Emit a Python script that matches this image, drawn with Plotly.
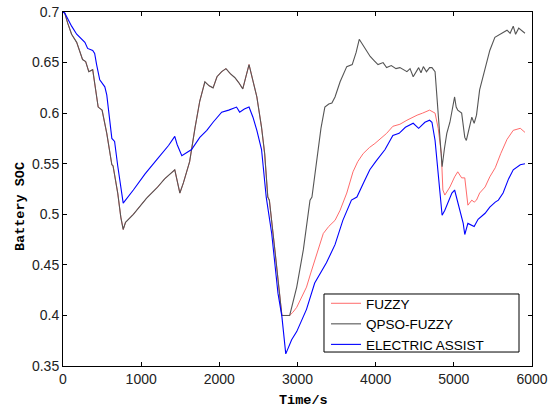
import plotly.graph_objects as go

# ---- data ----
qpso_t = [0, 22, 60, 110, 175, 250, 290, 330, 380, 405, 450, 500, 560, 625, 640, 700, 740, 770, 800, 900,
          1025, 1070, 1200, 1300, 1430, 1460, 1495, 1540, 1620, 1690, 1750, 1815, 1870, 1920, 1970, 2030,
          2085, 2140, 2200, 2250, 2300, 2340, 2380, 2430, 2480, 2540, 2580, 2620, 2640, 2710, 2760, 2800,
          2900, 2950, 2990, 3075, 3160, 3185, 3245, 3300, 3350, 3400, 3440, 3480, 3545, 3630, 3700, 3750,
          3790, 3840, 3890, 3930, 3980, 4030, 4095, 4140, 4200, 4260, 4310, 4360, 4400, 4440, 4480, 4550,
          4580, 4610, 4650, 4690, 4720, 4760, 4780, 4800, 4850, 4880, 4910, 4950, 5010, 5030, 5050, 5100,
          5140, 5160, 5230, 5260, 5290, 5330, 5400, 5460, 5525, 5600, 5680, 5720, 5760, 5790, 5830, 5910]
qpso_soc = [0.700, 0.699, 0.689, 0.678, 0.670, 0.653, 0.651, 0.641, 0.643, 0.629, 0.606, 0.603, 0.580, 0.549,
            0.548, 0.521, 0.497, 0.485, 0.492, 0.500, 0.512, 0.516, 0.526, 0.535, 0.544, 0.533, 0.521, 0.531,
            0.552, 0.586, 0.612, 0.631, 0.627, 0.625, 0.636, 0.641, 0.644, 0.639, 0.635, 0.630, 0.624, 0.636,
            0.648, 0.632, 0.616, 0.586, 0.560, 0.517, 0.514, 0.465, 0.430, 0.400, 0.400, 0.415, 0.428, 0.465,
            0.514, 0.517, 0.551, 0.585, 0.606, 0.609, 0.610, 0.616, 0.631, 0.646, 0.648, 0.660, 0.673, 0.667,
            0.660, 0.656, 0.652, 0.648, 0.650, 0.645, 0.647, 0.644, 0.645, 0.643, 0.641, 0.644, 0.636, 0.645,
            0.640, 0.646, 0.641, 0.645, 0.645, 0.641, 0.621, 0.598, 0.547, 0.565, 0.580, 0.591, 0.616, 0.606,
            0.603, 0.600, 0.576, 0.573, 0.596, 0.590, 0.598, 0.623, 0.645, 0.662, 0.675, 0.678, 0.682, 0.679,
            0.686, 0.678, 0.684, 0.679]

fuzzy_t = [0, 22, 60, 110, 175, 250, 290, 330, 380, 405, 450, 500, 560, 625, 640, 700, 740, 770, 800, 900,
           1025, 1070, 1200, 1300, 1430, 1460, 1495, 1540, 1620, 1690, 1750, 1815, 1870, 1920, 1970, 2030,
           2085, 2140, 2200, 2250, 2300, 2340, 2380, 2430, 2480, 2540, 2580, 2620, 2640, 2710, 2760, 2800,
           2900, 2940, 2990, 3050, 3115, 3170, 3220, 3280, 3330, 3400, 3480, 3545, 3630, 3710, 3770, 3840,
           3920, 3990, 4055, 4140, 4220, 4310, 4400, 4470, 4530, 4600, 4690, 4760, 4800, 4840, 4860, 4885,
           4950, 5010, 5050, 5100, 5140, 5180, 5230, 5260, 5290, 5330, 5400, 5460, 5530, 5600, 5680, 5760,
           5850, 5910]
fuzzy_soc = [0.700, 0.699, 0.689, 0.678, 0.670, 0.653, 0.651, 0.641, 0.643, 0.629, 0.606, 0.603, 0.580, 0.549,
             0.548, 0.521, 0.497, 0.485, 0.492, 0.500, 0.512, 0.516, 0.526, 0.535, 0.544, 0.533, 0.521, 0.531,
             0.552, 0.586, 0.612, 0.631, 0.627, 0.625, 0.636, 0.641, 0.644, 0.639, 0.635, 0.630, 0.624, 0.636,
             0.648, 0.632, 0.616, 0.586, 0.560, 0.517, 0.514, 0.465, 0.430, 0.400, 0.400, 0.403, 0.408, 0.418,
             0.428, 0.442, 0.455, 0.468, 0.481, 0.488, 0.494, 0.504, 0.521, 0.542, 0.552, 0.560, 0.566, 0.570,
             0.574, 0.580, 0.587, 0.589, 0.593, 0.596, 0.598, 0.600, 0.603, 0.600, 0.585, 0.560, 0.524, 0.519,
             0.527, 0.537, 0.542, 0.536, 0.536, 0.509, 0.514, 0.512, 0.514, 0.521, 0.527, 0.537, 0.546, 0.560,
             0.574, 0.583, 0.585, 0.581]

ea_t = [0, 22, 110, 175, 280, 315, 380, 405, 430, 470, 535, 560, 625, 660, 700, 750, 770, 900, 1050, 1200,
        1350, 1430, 1460, 1520, 1580, 1645, 1750, 1840, 1920, 2030, 2120, 2220, 2260, 2320, 2380, 2430, 2480,
        2540, 2600, 2670, 2750, 2800, 2850, 2880, 2925, 2990, 3050, 3115, 3220, 3300, 3370, 3480, 3530, 3580,
        3690, 3760, 3850, 3925, 4000, 4055, 4120, 4220, 4300, 4380, 4480, 4550, 4630, 4690, 4720, 4760, 4850,
        4885, 4975, 5010, 5050, 5120, 5140, 5180, 5260, 5310, 5400, 5460, 5530, 5570, 5630, 5700, 5760, 5850,
        5910]
ea_soc = [0.700, 0.699, 0.686, 0.678, 0.670, 0.664, 0.662, 0.659, 0.648, 0.633, 0.626, 0.618, 0.575, 0.572,
          0.548, 0.518, 0.511, 0.524, 0.540, 0.554, 0.568, 0.577, 0.569, 0.558, 0.561, 0.564, 0.576, 0.583,
          0.591, 0.601, 0.603, 0.606, 0.601, 0.604, 0.606, 0.596, 0.583, 0.564, 0.517, 0.481, 0.422, 0.399,
          0.362, 0.368, 0.376, 0.384, 0.395, 0.406, 0.432, 0.443, 0.452, 0.470, 0.482, 0.494, 0.514, 0.517,
          0.532, 0.544, 0.552, 0.557, 0.564, 0.578, 0.580, 0.586, 0.590, 0.585, 0.591, 0.593, 0.591, 0.573,
          0.499, 0.504, 0.521, 0.524, 0.512, 0.491, 0.480, 0.491, 0.488, 0.495, 0.501, 0.507, 0.512, 0.514,
          0.521, 0.535, 0.544, 0.549, 0.550]

x_ticks = [0, 1000, 2000, 3000, 4000, 5000, 6000]
y_ticks = [0.35, 0.4, 0.45, 0.5, 0.55, 0.6, 0.65, 0.7]
x_title = "Time/s"
y_title = "Battery SOC"

fig = go.Figure()
fig.add_trace(go.Scatter(x=fuzzy_t, y=fuzzy_soc, mode="lines", name="FUZZY",
                         line=dict(color="#ff5a5a", width=0.9)))
fig.add_trace(go.Scatter(x=qpso_t, y=qpso_soc, mode="lines", name="QPSO-FUZZY",
                         line=dict(color="#555555", width=1.1)))
fig.add_trace(go.Scatter(x=ea_t, y=ea_soc, mode="lines", name="ELECTRIC ASSIST",
                         line=dict(color="#0000ff", width=1.1)))

axis_common = dict(showline=True, linecolor="black", linewidth=1, mirror="ticks",
                   ticks="inside", ticklen=4, tickcolor="black", showgrid=False, zeroline=False,
                   automargin=False,
                   tickfont=dict(family="Liberation Sans, Arial", size=14, color="#222"))

fig.update_layout(
    width=548, height=409, autosize=False,
    margin=dict(l=63, r=16, t=12, b=43, pad=0),
    paper_bgcolor="white", plot_bgcolor="white",
    xaxis=dict(range=[0, 6000], tickvals=x_ticks, ticktext=[str(v) for v in x_ticks], **axis_common),
    yaxis=dict(range=[0.35, 0.7], tickvals=y_ticks, ticktext=[f"{v:g}" for v in y_ticks], **axis_common),
    legend=dict(x=0.5608, y=0.2203, xanchor="left", yanchor="top",
                borderwidth=0, bgcolor="rgba(0,0,0,0)",
                font=dict(family="Liberation Sans, Arial", size=13.5, color="black"),
                tracegroupgap=0, itemwidth=30),
    showlegend=True,
    shapes=[dict(type="rect", xref="paper", yref="paper", x0=0.5565, x1=0.9723, y0=0.0395, y1=0.2034,
                 line=dict(color="black", width=1), fillcolor="white", layer="above")],
)

fig.add_annotation(text=f"<b>{x_title}</b>", xref="paper", yref="paper", x=0.512, y=0,
                   xanchor="center", yanchor="middle", yshift=-34, showarrow=False,
                   font=dict(family="Liberation Mono, Courier New", size=13.5, color="black"))
fig.add_annotation(text=f"<b>{y_title}</b>", xref="paper", yref="paper", x=0, y=0.449,
                   xanchor="center", yanchor="middle", xshift=-43, textangle=-90, showarrow=False,
                   font=dict(family="Liberation Mono, Courier New", size=13.5, color="black"))

fig.write_html("out.html")
